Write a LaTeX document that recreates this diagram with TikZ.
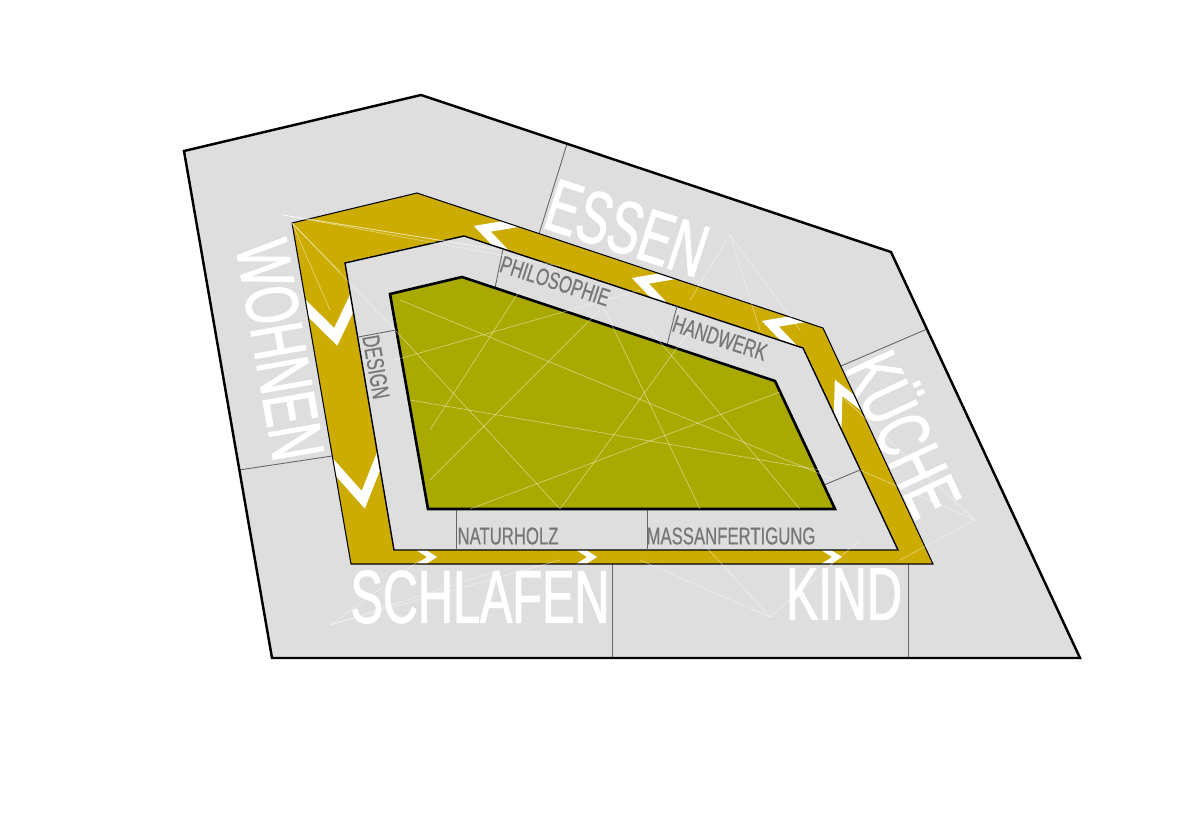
\documentclass[tikz,border=0pt]{standalone}
\usepackage{fontspec}
\newfontfamily\bigcond[FakeStretch=0.65,FakeBold=1.3]{Liberation Sans}
\newfontfamily\smallcond[FakeStretch=0.69,FakeBold=0.5]{Liberation Sans}
\definecolor{outergray}{HTML}{DEDEDE}
\definecolor{goldband}{HTML}{CCAC00}
\definecolor{olivecore}{HTML}{A9A900}
\definecolor{labelgray}{HTML}{777777}
\newcommand{\chevron}[6]{%
  \begin{scope}[shift={(#1,#2)},rotate=#3]
    \fill[white] (-#5/2,#4) -- (#5/2,0) -- (-#5/2,-#4) -- (-#5/2-#6,-#4) -- (#5/2-#6,0) -- (-#5/2-#6,#4) -- cycle;
  \end{scope}}
\begin{document}
\begin{tikzpicture}[x=0.02cm,y=-0.02cm,
  bigl/.style={text=white, font=\bigcond\fontsize{42.5}{42.5}\selectfont, inner sep=0pt},
  smalll/.style={text=labelgray, font=\smallcond\fontsize{13.8}{13.8}\selectfont, inner sep=0pt},
  divider/.style={draw=black!60, line width=0.5pt},
  web/.style={draw=white, line width=0.4pt, opacity=0.45}]
\useasboundingbox (0,0) rectangle (1200,825);

% outer field
\fill[outergray] (184,151) -- (421,95) -- (891,252) -- (1080,658) -- (272,658) -- cycle;
\coordinate (d1a) at (567,144); \coordinate (d1b) at (539,234);
\coordinate (d2a) at (927,329); \coordinate (d2b) at (841,366);
\coordinate (d3a) at (239,470); \coordinate (d3b) at (332,456);
\coordinate (d4a) at (612,564); \coordinate (d4b) at (612,658);
\coordinate (d5a) at (908,564); \coordinate (d5b) at (908,658);
\draw[divider] (d1a) -- (d1b);
\draw[divider] (d2a) -- (d2b);
\draw[divider] (d3a) -- (d3b);
\draw[divider] (d4a) -- (d4b);
\draw[divider] (d5a) -- (d5b);

% gold band
\fill[goldband] (292,223) -- (417,193) -- (823,328) -- (933,564) -- (351,564) -- cycle;
\begin{scope}
  \clip (292,223) -- (417,193) -- (823,328) -- (933,564) -- (351,564) -- cycle;
  \chevron{334}{327}{-80}{27}{38}{18}
  \chevron{361}{487}{-80}{27}{44}{18}
  \chevron{489}{231}{161.6}{17}{32}{18}
  \chevron{647}{283}{161.6}{17}{32}{18}
  \chevron{777}{326}{161.6}{17}{32}{18}
  \chevron{842}{395}{115}{17}{34}{18}
  \chevron{430}{557}{0}{9}{14}{10}
  \chevron{590}{557}{0}{9}{14}{10}
  \chevron{835}{557}{0}{9}{14}{10}
\end{scope}
\draw[black, line width=0.6pt] (292,223) -- (417,193) -- (823,328) -- (933,564) -- (351,564) -- cycle;

% inner ring
\filldraw[fill=outergray, draw=black, line width=0.8pt] (345,263) -- (464,236) -- (803,348) -- (898,550) -- (394,550) -- cycle;
\coordinate (e1a) at (503,249); \coordinate (e1b) at (495,288);
\coordinate (e2a) at (677,306); \coordinate (e2b) at (667,345);
\coordinate (e3a) at (358,337); \coordinate (e3b) at (396,330);
\coordinate (e4a) at (824,485); \coordinate (e4b) at (860,470);
\coordinate (e5a) at (456,509); \coordinate (e5b) at (456,550);
\coordinate (e6a) at (647,509); \coordinate (e6b) at (647,550);
\draw[divider] (e1a) -- (e1b);
\draw[divider] (e2a) -- (e2b);
\draw[divider] (e3a) -- (e3b);
\draw[divider] (e4a) -- (e4b);
\draw[divider] (e5a) -- (e5b);
\draw[divider] (e6a) -- (e6b);

% core
\filldraw[fill=olivecore, draw=black, line width=1.5pt, line join=miter] (390,294) -- (462,277) -- (775,381) -- (835,509) -- (428,509) -- cycle;

% faint web lines
\draw[web] (283,215) -- (500,250);
\draw[web] (283,215) -- (470,245);
\draw[web] (283,215) -- (560,266);
\draw[web] (292,223) -- (395,330);
\draw[web] (292,223) -- (340,272);
\draw[web] (292,223) -- (330,310);
\draw[web] (400,300) -- (835,480);
\draw[web] (395,360) -- (640,290);
\draw[web] (430,480) -- (600,310);
\draw[web] (470,509) -- (780,392);
\draw[web] (560,509) -- (690,330);
\draw[web] (410,400) -- (820,470);
\draw[web] (600,300) -- (700,509);
\draw[web] (520,290) -- (430,430);
\draw[web] (650,330) -- (800,509);
\draw[web] (395,330) -- (560,509);
\draw[web] (730,235) -- (690,300);
\draw[web] (730,235) -- (760,330);
\draw[web] (730,235) -- (800,330);
\draw[web] (975,520) -- (860,470);
\draw[web] (975,520) -- (900,560);
\draw[web] (975,520) -- (840,395);
\draw[web] (770,617) -- (640,560);
\draw[web] (770,617) -- (700,540);
\draw[web] (770,617) -- (860,540);
\draw[web] (330,625) -- (420,560);
\draw[web] (330,625) -- (500,570);
\draw[web] (330,625) -- (560,560);

% outer outline
\draw[black, line width=1.4pt, line join=miter] (184,151) -- (421,95) -- (891,252) -- (1080,658) -- (272,658) -- cycle;

% big labels
\node[bigl, rotate=-18] (essen) at (627,228) {ESSEN};
\node[bigl, rotate=-80] (wohnen) at (280,350) {WOHNEN};
\node[bigl, rotate=-65] (kueche) at (908,432) {KÜCHE};
\node[bigl] (schlafen) at (480,597) {SCHLAFEN};
\node[bigl] (kind) at (844,594) {KIND};

% small labels
\node[smalll, rotate=-18] (philo) at (555,281) {PHILOSOPHIE};
\node[smalll, rotate=-18] (handwerk) at (720,338) {HANDWERK};
\node[smalll, rotate=-80] (design) at (376,367) {DESIGN};
\node[smalll] (naturholz) at (508,536) {NATURHOLZ};
\node[smalll] (massanf) at (731,536) {MASSANFERTIGUNG};
\end{tikzpicture}
\end{document}
